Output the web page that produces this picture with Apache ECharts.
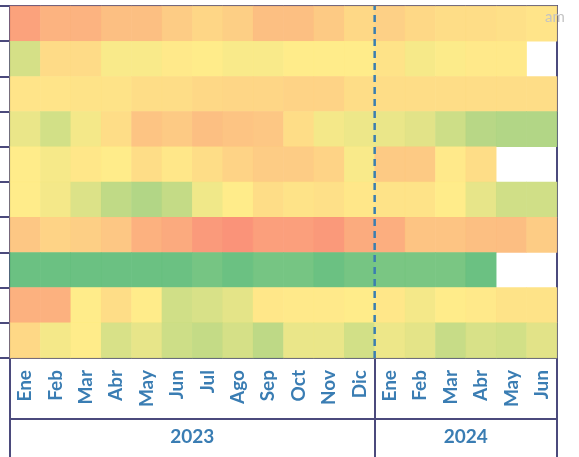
<!DOCTYPE html>
<html>
<head>
<meta charset="utf-8">
<script src="https://cdn.jsdelivr.net/npm/echarts@6/dist/echarts.min.js"></script>
<style>
  html, body { margin: 0; padding: 0; background: #fff; }
  #chart { width: 579px; height: 457px; }
</style>
</head>
<body>
<div id="chart"></div>
<script>
// months per year, in column order
var months2023 = ["Ene", "Feb", "Mar", "Abr", "May", "Jun", "Jul", "Ago", "Sep", "Oct", "Nov", "Dic"];
var months2024 = ["Ene", "Feb", "Mar", "Abr", "May", "Jun"];
var years = ["2023", "2024"];
var rowNames = ["1", "2", "3", "4", "5", "6", "7", "8", "9", "10"];

// score per cell (0 = red, 50 = yellow, 100 = green), null = no data
var row1 = [20, 27, 27, 32, 32, 37, 41, 38, 32, 32, 36, 42, 39, 42, 44, 44, 45, 47];
var row2 = [64, 43, 43, 52, 52, 49, 50, 52, 52, 50, 50, 50, 46, 53, 51, 49, 49, null];
var row3 = [47, 47, 46, 46, 44, 44, 42, 41, 41, 40, 40, 44, 44, 44, 44, 44, 44, 44];
var row4 = [57, 65, 54, 44, 34, 36, 32, 34, 35, 44, 54, 56, 57, 60, 67, 74, 76, 76];
var row5 = [50, 53, 48, 50, 44, 48, 44, 40, 37, 37, 40, 52, 36, 36, 49, 44, null, null];
var row6 = [50, 54, 62, 71, 76, 70, 55, 50, 44, 46, 45, 48, 46, 46, 50, 58, 66, 66];
var row7 = [35, 40, 38, 35, 26, 23, 17, 14, 19, 19, 16, 24, 25, 34, 34, 32, 31, 37];
var row8 = [100, 100, 100, 100, 100, 100, 96, 100, 96, 96, 100, 96, 95, 95, 95, 100, null, null];
var row9 = [26, 26, 50, 44, 50, 66, 63, 59, 48, 49, 49, 50, 48, 54, 50, 49, 46, 46];
var row10 = [42, 54, 50, 63, 58, 67, 70, 64, 72, 57, 57, 65, 56, 59, 69, 63, 65, 60];

var rows = [row1, row2, row3, row4, row5, row6, row7, row8, row9, row10];

var lineColor = "#4b4a7c";
var textBlue = "#3a7db3";

var categories = months2023.map(function (m) { return m + " 2023"; })
  .concat(months2024.map(function (m) { return m + " 2024"; }));
var total = categories.length;
var split = months2023.length;

var cells = [];
rows.forEach(function (row, r) {
  row.forEach(function (v, c) {
    if (v !== null) cells.push([c, r, v]);
  });
});

// year label positions = middle of each group
var yearMid = [split / 2, split + (total - split) / 2];

var chart = echarts.init(document.getElementById("chart"));
chart.setOption({
  animation: false,
  title: {
    text: "am",
    left: 540,
    top: 5,
    textStyle: { color: "#c4c4c4", fontSize: 15, fontWeight: "normal", fontFamily: "Lato" },
  },
  grid: {
    left: 10,
    right: 22,
    top: 6,
    bottom: 99,
    show: true,
    borderColor: lineColor,
    borderWidth: 2,
  },
  xAxis: [
    {
      type: "category",
      data: categories,
      position: "bottom",
      axisLine: { show: true, lineStyle: { color: lineColor, width: 2 } },
      axisTick: { show: false },
      axisLabel: {
        rotate: 90,
        margin: 12,
        color: textBlue,
        fontSize: 19,
        fontWeight: "bold",
        fontFamily: "Lato",
        formatter: function (v) { return v.split(" ")[0]; },
      },
      splitLine: { show: false },
    },
    {
      type: "value",
      min: 0,
      max: total,
      position: "bottom",
      axisLine: { show: false },
      axisLabel: { show: false },
      axisTick: {
        show: true,
        customValues: [0, split, total],
        length: 99,
        lineStyle: { color: lineColor, width: 2 },
      },
      splitLine: { show: false },
    },
    {
      type: "value",
      min: 0,
      max: total,
      position: "bottom",
      offset: 61,
      axisLine: { show: true, lineStyle: { color: lineColor, width: 2 } },
      axisTick: { show: false },
      axisLabel: {
        customValues: yearMid,
        margin: 8,
        color: textBlue,
        fontSize: 19,
        fontWeight: "bold",
        fontFamily: "Lato",
        formatter: function (v) { return years[yearMid.indexOf(v)]; },
      },
      splitLine: { show: false },
    },
  ],
  yAxis: [
    {
      type: "category",
      data: rowNames,
      inverse: true,
      axisLine: { show: true, lineStyle: { color: lineColor, width: 2 } },
      axisTick: { show: true, length: 10, lineStyle: { color: lineColor, width: 2 } },
      axisLabel: { show: false },
      splitLine: { show: false },
    },
    {
      type: "value",
      min: 0,
      max: 1,
      show: false,
    },
  ],
  visualMap: {
    show: false,
    min: 0,
    max: 100,
    seriesIndex: 0,
    inRange: { color: ["#F8696B", "#FFEB84", "#63BE7B"] },
  },
  series: [
    {
      type: "heatmap",
      data: cells,
      itemStyle: { opacity: 0.95 },
    },
    {
      type: "line",
      xAxisIndex: 1,
      yAxisIndex: 1,
      data: [[split, 0], [split, 1]],
      symbol: "none",
      silent: true,
      z: 5,
      lineStyle: { color: "#3b7eb0", width: 2.5, type: [7, 5] },
    },
  ],
});
</script>
</body>
</html>
